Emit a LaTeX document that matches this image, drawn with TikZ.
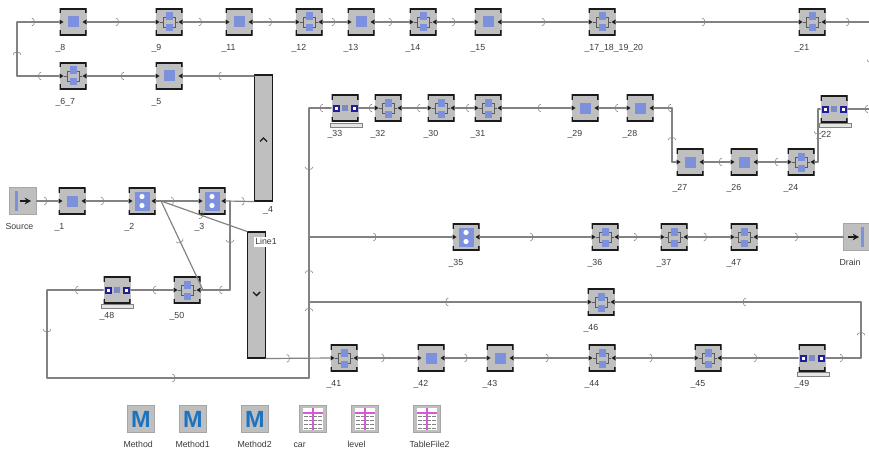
\documentclass[tikz,border=0pt]{standalone}
\usepackage{fontspec}
\setmainfont{Liberation Sans}
\usetikzlibrary{arrows.meta,decorations.markings}
\definecolor{Ink}{HTML}{3A3A3A}
\definecolor{BoxGray}{HTML}{BFBFBF}
\definecolor{BoxEdge}{HTML}{A6A6A6}
\definecolor{LineGray}{HTML}{828282}
\definecolor{Jet}{HTML}{1A1A1A}
\definecolor{Slate}{HTML}{5A5A5A}
\definecolor{Cobalt}{HTML}{7C90DC}
\definecolor{DeepBlue}{HTML}{1F1F9C}
\definecolor{MethodBlue}{HTML}{1E73BE}
\definecolor{Magenta}{HTML}{D65AD6}
\newcommand{\iconFrame}{%
  \draw[Jet,line width=1.5pt] (-12.7,-8.5) -- (-12.7,-12.7) -- (12.7,-12.7) -- (12.7,-8.5);
  \draw[Jet,line width=1.5pt] (-12.7,8.5) -- (-12.7,12.7) -- (12.7,12.7) -- (12.7,8.5);
}
\newcommand{\iconPorts}{%
  \fill[Jet] (-13.5,-2.5) -- (-9.5,0) -- (-13.5,2.5) -- cycle;
  \fill[Jet] (13.5,-2.5) -- (9.5,0) -- (13.5,2.5) -- cycle;
}
\newcommand{\iconSingle}{%
  \fill[Cobalt] (-5.5,-5.5) rectangle (5.5,5.5);
}
\newcommand{\iconTwin}{%
  \draw[Slate,line width=0.5pt] (-9,0) -- (-6,0) (-3,-5) -- (-6,-5) -- (-6,5) -- (-3,5);
  \draw[Slate,line width=0.5pt] (9,0) -- (6,0) (3,-5) -- (6,-5) -- (6,5) -- (3,5);
  \fill[Cobalt] (-3.5,-9.5) rectangle (3.5,-1.5);
  \fill[Cobalt] (-3.5,2.5) rectangle (3.5,9.5);
}
\newcommand{\iconSwitch}{%
  \fill[Cobalt] (-7.5,-9.5) rectangle (7.5,9.5);
  \fill[white] (0,-4.5) circle[radius=2.6];
  \fill[white] (0,4.5) circle[radius=2.6];
}
\newcommand{\iconBuffer}{%
  \fill[DeepBlue] (-12.5,-3.5) rectangle (-5.5,3.5);
  \fill[DeepBlue] (5.5,-3.5) rectangle (12.5,3.5);
  \fill[white] (-10.5,-1.5) rectangle (-7.5,1.5);
  \fill[white] (7.5,-1.5) rectangle (10.5,1.5);
  \fill[Cobalt!70!gray] (-3,-3) rectangle (3,3);
}
\newcommand{\iconTable}{%
  \fill[white] (-10,-11) rectangle (10,11);
  \foreach \y in {-3,1,5,9} {
    \draw[LineGray,line width=0.8pt,dash pattern=on 3pt off 1pt] (-9,\y) -- (9,\y);
  }
  \draw[Magenta,line width=0.9pt] (0,-11) -- (0,11) (-10,-6) -- (10,-6);
}
\tikzset{
  Chev/.tip={Arc Barb[length=0.9mm,width=2.5mm,line width=0.5pt]},
  station/.style={
    rectangle, fill=BoxGray, minimum size=0.81cm, inner sep=0pt
  },
  tagtext/.style={
    inner sep=0pt, text=Ink, text height=0.19cm, text depth=0.05cm,
    font=\fontsize{7.5}{9}\selectfont
  },
  tag/.style={
    label={[tagtext,anchor=north west,xshift=-0.12cm,yshift=-0.24cm]225:#1}
  },
  proc/.style={station, path picture={
    \begin{scope}[shift={(path picture bounding box.center)}]
      \iconFrame\iconSingle\iconPorts
    \end{scope}}
  },
  twin/.style={station, path picture={
    \begin{scope}[shift={(path picture bounding box.center)}]
      \iconFrame\iconTwin\iconPorts
    \end{scope}}
  },
  switch/.style={station, path picture={
    \begin{scope}[shift={(path picture bounding box.center)}]
      \iconFrame\iconSwitch\iconPorts
    \end{scope}}
  },
  buffer/.style={station, path picture={
    \begin{scope}[shift={(path picture bounding box.center)}]
      \iconFrame\iconBuffer
    \end{scope}}
  },
  plate/.style={
    rectangle, draw=LineGray, line width=0.6pt, fill=BoxGray!40,
    minimum width=0.96cm, minimum height=0.12cm, inner sep=0pt
  },
  source/.style={station, draw=BoxEdge, path picture={
    \begin{scope}[shift={(path picture bounding box.center)}]
      \fill[Cobalt] (-8.5,-10) rectangle (-5.5,10);
      \draw[Jet,line width=1.4pt,-{Stealth[length=1.9mm,width=2mm]}] (-3,0) -- (8,0);
    \end{scope}}
  },
  drain/.style={station, draw=BoxEdge, path picture={
    \begin{scope}[shift={(path picture bounding box.center)}]
      \fill[Cobalt] (3.5,-10) rectangle (6.5,10);
      \draw[Jet,line width=1.4pt,-{Stealth[length=1.9mm,width=2mm]}] (-9,0) -- (2,0);
    \end{scope}}
  },
  method/.style={
    station, draw=BoxEdge, text=MethodBlue,
    font=\fontsize{20}{20}\bfseries\selectfont
  },
  tablefile/.style={station, draw=BoxEdge, path picture={
    \begin{scope}[shift={(path picture bounding box.center)}]
      \iconTable
    \end{scope}}
  },
  bar/.style={
    rectangle, draw=Jet, line width=0.9pt, fill=BoxGray,
    minimum width=0.54cm, minimum height=3.78cm, inner sep=0pt
  },
  barup/.style={bar, path picture={
    \begin{scope}[shift={(path picture bounding box.center)}]
      \draw[Jet,line width=1.2pt] (-3.5,3.5) -- (0,0) -- (3.5,3.5);
    \end{scope}}
  },
  bardown/.style={bar, path picture={
    \begin{scope}[shift={(path picture bounding box.center)}]
      \draw[Jet,line width=1.2pt] (-3.5,-3) -- (0,0.5) -- (3.5,-3);
    \end{scope}}
  },
  flow/.style={
    draw=LineGray, line width=1pt, line cap=round,
    postaction={decorate},
    decoration={markings,mark=at position #1 with {\arrow[LineGray]{Chev}}}
  },
  wire/.style={draw=LineGray, line width=1pt, line cap=round}
}
\begin{document}
\begin{tikzpicture}[x=0.03cm,y=-0.03cm]
    \useasboundingbox (0,0) rectangle (869,450);
    \node[proc,tag=\_8] (s8) at (73,22) {};
    \node[twin,tag=\_9] (s9) at (169,22) {};
    \node[proc,tag=\_11] (s11) at (239,22) {};
    \node[twin,tag=\_12] (s12) at (309,22) {};
    \node[proc,tag=\_13] (s13) at (361,22) {};
    \node[twin,tag=\_14] (s14) at (423,22) {};
    \node[proc,tag=\_15] (s15) at (488,22) {};
    \node[twin,tag=\_17\_18\_19\_20] (s17) at (602,22) {};
    \node[twin,tag=\_21] (s21) at (812,22) {};
    \node[twin,tag=\_6\_7] (s6) at (73,76) {};
    \node[proc,tag=\_5] (s5) at (169,76) {};
    \node[barup] (line4) at (263.5,138) {};
    \node[tagtext] (tag4) at (268,210) {\_4};

    \node[source,tag=Source] (src) at (23,201) {};
    \node[proc,tag=\_1] (s1) at (72,201) {};
    \node[switch,tag=\_2] (s2) at (142,201) {};
    \node[switch,tag=\_3] (s3) at (212,201) {};
    \node[twin,tag=\_50] (s50) at (187,290) {};
    \node[buffer,tag=\_48] (s48) at (117,290) {};
    \node[plate] (p48) at (117,306) {};
    \node[bardown] (line1) at (256.5,295) {};

    \node[buffer,tag=\_33] (s33) at (345,108) {};
    \node[plate] (p33) at (346,125) {};
    \node[twin,tag=\_32] (s32) at (388,108) {};
    \node[twin,tag=\_30] (s30) at (441,108) {};
    \node[twin,tag=\_31] (s31) at (488,108) {};
    \node[proc,tag=\_29] (s29) at (585,108) {};
    \node[proc,tag=\_28] (s28) at (640,108) {};
    \node[proc,tag=\_27] (s27) at (690,162) {};
    \node[proc,tag=\_26] (s26) at (744,162) {};
    \node[twin,tag=\_24] (s24) at (801,162) {};
    \node[buffer,tag=\_22] (s22) at (834,109) {};
    \node[plate] (p22) at (835,125) {};

    \node[switch,tag=\_35] (s35) at (466,237) {};
    \node[twin,tag=\_36] (s36) at (605,237) {};
    \node[twin,tag=\_37] (s37) at (674,237) {};
    \node[twin,tag=\_47] (s47) at (744,237) {};
    \node[drain,tag=Drain] (drn) at (857,237) {};
    \node[twin,tag=\_46] (s46) at (601,302) {};

    \node[twin,tag=\_41] (s41) at (344,358) {};
    \node[proc,tag=\_42] (s42) at (431,358) {};
    \node[proc,tag=\_43] (s43) at (500,358) {};
    \node[twin,tag=\_44] (s44) at (602,358) {};
    \node[twin,tag=\_45] (s45) at (708,358) {};
    \node[buffer,tag=\_49] (s49) at (812,358) {};
    \node[plate] (p49) at (813,374) {};

    \node[method,tag=Method] (m0) at (141,419) {M};
    \node[method,tag=Method1] (m1) at (193,419) {M};
    \node[method,tag=Method2] (m2) at (255,419) {M};
    \node[tablefile,label={[tagtext,anchor=north west,xshift=-0.18cm,yshift=-0.24cm]225:car}] (t0) at (313,419) {};
    \node[tablefile,tag=level] (t1) at (365,419) {};
    \node[tablefile,tag=TableFile2] (t2) at (427,419) {};

    \coordinate (c1) at (17,76);
    \coordinate (c2) at (17,22);
    \coordinate (c3) at (871,22);
    \coordinate (c4) at (871,109);
    \coordinate (c5) at (818,109);
    \coordinate (c6) at (818,162);
    \coordinate (c7) at (672,162);
    \coordinate (c8) at (672,108);
    \coordinate (c9) at (309,108);
    \coordinate (c11) at (309,237);
    \coordinate (c12) at (309,378);
    \coordinate (c13) at (309,302);
    \coordinate (c14) at (861,358);
    \coordinate (c15) at (861,302);
    \coordinate (c16) at (230,201);
    \coordinate (c17) at (230,290);
    \coordinate (c18) at (203,290);
    \coordinate (c19) at (47,290);
    \coordinate (c20) at (47,378);
    \coordinate (j2) at (161,201);

    \draw[flow=.5] (line4.north west |- s5) -- (s5.east);
    \draw[flow=.5] (s5.west) -- (s6.east);
    \draw[flow=.5] (s6.west) -- (c1);
    \draw[flow=.45] (c1) -- (c2);
    \draw[flow=.42] (c2) -- (s8.west);
    \draw[flow=.47] (s8.east) -- (s9.west);
    \draw[flow=.45] (s9.east) -- (s11.west);
    \draw[flow=.45] (s11.east) -- (s12.west);
    \draw[flow=.5] (s12.east) -- (s13.west);
    \draw[flow=.5] (s13.east) -- (s14.west);
    \draw[flow=.49] (s14.east) -- (s15.west);
    \draw[flow=.5] (s15.east) -- (s17.west);
    \draw[flow=.49] (s17.east) -- (s21.west);
    \draw[flow=.52] (s21.east) -- (c3);
    \draw[flow=.47] (c3) -- (c4);
    \draw[flow=.26] (c4) -- (s22.east);
    \draw[wire] (s22.west) -- (c5);
    \draw[flow=.48] (c5) -- (c6);
    \draw[wire] (c6) -- (s24.east);
    \draw[flow=.42] (s24.west) -- (s26.east);
    \draw[flow=.43] (s26.west) -- (s27.east);
    \draw[wire] (s27.west) -- (c7);
    \draw[flow=.46] (c7) -- (c8);
    \draw[flow=.22] (c8) -- (s28.east);
    \draw[flow=.41] (s28.west) -- (s29.east);
    \draw[flow=.48] (s29.west) -- (s31.east);
    \draw[flow=.42] (s31.west) -- (s30.east);
    \draw[flow=.4] (s30.west) -- (s32.east);
    \draw[flow=.34] (s32.west) -- (s33.east);
    \draw[flow=.51] (s33.west) -- (c9);
    \draw[flow=.48] (c9) -- (c11);
    \draw[flow=.92] (c12) -- (c13);
    \draw[flow=.49] (c13) -- (c11);
    \draw[flow=.47] (c11) -- (s35.west);
    \draw[flow=.48] (s35.east) -- (s36.west);
    \draw[flow=.44] (s36.east) -- (s37.west);
    \draw[flow=.45] (s37.east) -- (s47.west);
    \draw[flow=.47] (s47.east) -- (drn.west);
    \draw[flow=.37] (line1.south east) -- (s41.west);
    \draw[flow=.45] (s41.east) -- (s42.west);
    \draw[flow=.55] (s42.east) -- (s43.west);
    \draw[flow=.47] (s43.east) -- (s44.west);
    \draw[flow=.47] (s44.east) -- (s45.west);
    \draw[flow=.46] (s45.east) -- (s49.west);
    \draw[flow=.49] (s49.east) -- (c14);
    \draw[flow=.46] (c14) -- (c15);
    \draw[flow=.48] (c15) -- (s46.east);
    \draw[flow=.51] (s46.west) -- (c13);
    \draw[flow=.48] (src.east) -- (s1.west);
    \draw[flow=.43] (s1.east) -- (s2.west);
    \draw[flow=.43] (s2.east) -- (s3.west);
    \draw[flow=.67] (s3.east) -- (line4.south west);
    \draw[flow=.47] (c16) -- (c17);
    \draw[flow=.37] (c17) -- (s50.east);
    \draw[flow=.49] (j2) -- (line1.north west);
    \draw[flow=.47] (j2) -- (c18);
    \draw[flow=.48] (s50.west) -- (s48.east);
    \draw[flow=.5] (s48.west) -- (c19);
    \draw[flow=.48] (c19) -- (c20);
    \draw[flow=.49] (c20) -- (c12);

    \node[tagtext,fill=white,inner sep=1pt] (tag1) at (266,242) {Line1};
\end{tikzpicture}
\end{document}
